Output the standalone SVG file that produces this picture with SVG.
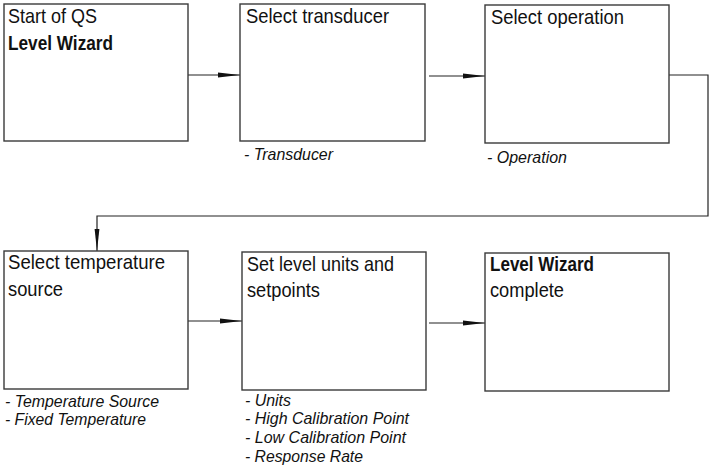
<svg xmlns="http://www.w3.org/2000/svg" width="709" height="474" viewBox="0 0 709 474">
<style>
.box{fill:#fff;stroke:#3a3a3a;stroke-width:1.4}
.t{font-family:"Liberation Sans Narrow","Liberation Sans",Arial,sans-serif;font-size:21px;fill:#111}
.b{font-weight:bold}
.i{font-family:"Liberation Sans Narrow","Liberation Sans",Arial,sans-serif;font-size:16.5px;font-style:italic;fill:#111}
.c{fill:none;stroke:#222;stroke-width:1.2}
</style>
<defs>
<marker id="ah" markerWidth="22" markerHeight="6" refX="22" refY="3" orient="auto" markerUnits="userSpaceOnUse">
<path d="M0,0.6 L22,3 L0,5.4 Z" fill="#111"/>
</marker>
</defs>
<g id="connectors">
<line class="c" x1="188" y1="75" x2="240" y2="75" marker-end="url(#ah)"/>
<line class="c" x1="429" y1="76" x2="485" y2="76" marker-end="url(#ah)"/>
<polyline class="c" points="669,75 708,75 708,216 97,216 97,251" marker-end="url(#ah)"/>
<line class="c" x1="188" y1="321" x2="242" y2="321" marker-end="url(#ah)"/>
<line class="c" x1="429" y1="323" x2="485" y2="323" marker-end="url(#ah)"/>
</g>
<g id="node-start">
<rect class="box" x="4" y="4" width="184" height="137"/>
<text class="t" x="8" y="23" textLength="89" lengthAdjust="spacingAndGlyphs">Start of QS</text>
<text class="t b" x="8" y="50" textLength="105" lengthAdjust="spacingAndGlyphs">Level Wizard</text>
</g>
<g id="node-transducer">
<rect class="box" x="240" y="4" width="185" height="137"/>
<text class="t" x="246" y="23" textLength="143" lengthAdjust="spacingAndGlyphs">Select transducer</text>
<text class="i" x="244" y="160" textLength="89" lengthAdjust="spacingAndGlyphs">- Transducer</text>
</g>
<g id="node-operation">
<rect class="box" x="485" y="5" width="184" height="138"/>
<text class="t" x="491" y="24" textLength="133" lengthAdjust="spacingAndGlyphs">Select operation</text>
<text class="i" x="487" y="163" textLength="80" lengthAdjust="spacingAndGlyphs">- Operation</text>
</g>
<g id="node-temperature">
<rect class="box" x="4" y="251" width="184" height="138"/>
<text class="t" x="8" y="269" textLength="157" lengthAdjust="spacingAndGlyphs">Select temperature</text>
<text class="t" x="8" y="296" textLength="55" lengthAdjust="spacingAndGlyphs">source</text>
<text class="i" x="5" y="407" textLength="154" lengthAdjust="spacingAndGlyphs">- Temperature Source</text>
<text class="i" x="5" y="425" textLength="141" lengthAdjust="spacingAndGlyphs">- Fixed Temperature</text>
</g>
<g id="node-level-units">
<rect class="box" x="242" y="252" width="184" height="138"/>
<text class="t" x="247" y="271" textLength="147" lengthAdjust="spacingAndGlyphs">Set level units and</text>
<text class="t" x="247" y="297" textLength="73" lengthAdjust="spacingAndGlyphs">setpoints</text>
<text class="i" x="245" y="406" textLength="46" lengthAdjust="spacingAndGlyphs">- Units</text>
<text class="i" x="245" y="424" textLength="164" lengthAdjust="spacingAndGlyphs">- High Calibration Point</text>
<text class="i" x="245" y="443" textLength="161" lengthAdjust="spacingAndGlyphs">- Low Calibration Point</text>
<text class="i" x="245" y="462" textLength="118" lengthAdjust="spacingAndGlyphs">- Response Rate</text>
</g>
<g id="node-complete">
<rect class="box" x="485" y="253" width="184" height="138"/>
<text class="t b" x="490" y="271" textLength="104" lengthAdjust="spacingAndGlyphs">Level Wizard</text>
<text class="t" x="490" y="297" textLength="74" lengthAdjust="spacingAndGlyphs">complete</text>
</g>
</svg>
